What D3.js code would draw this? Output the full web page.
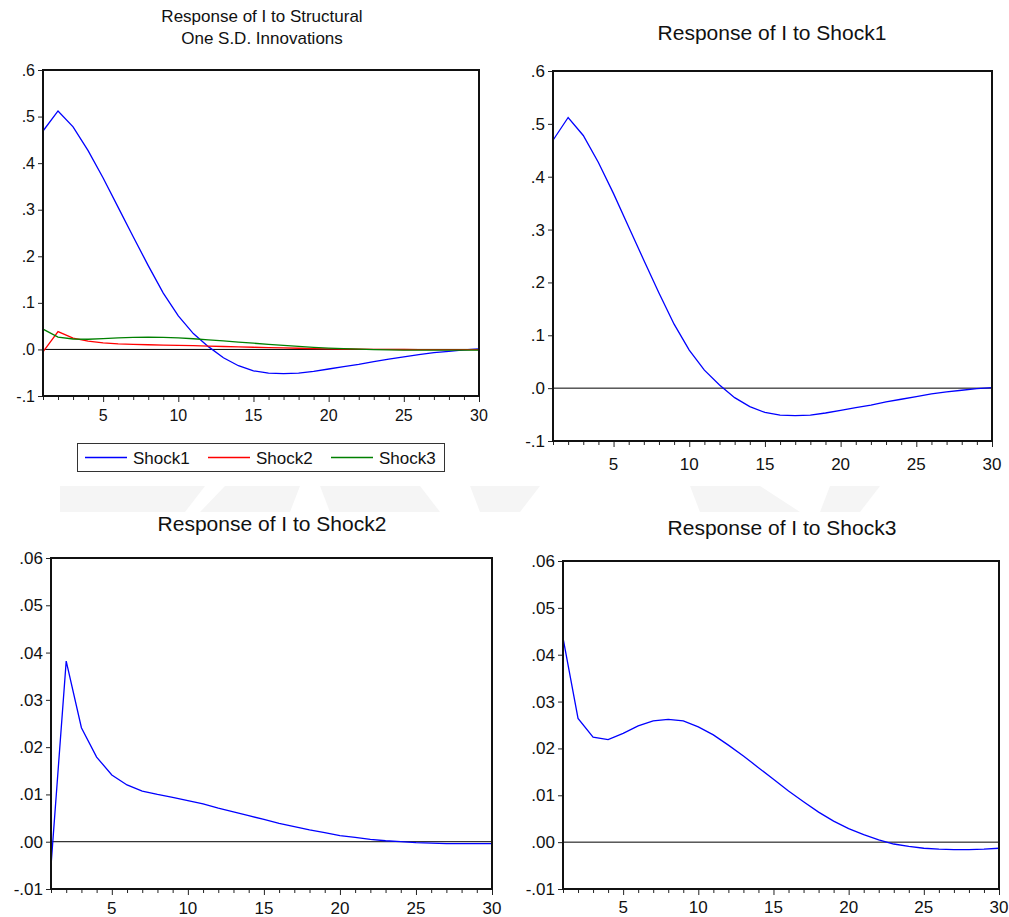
<!DOCTYPE html>
<html>
<head>
<meta charset="utf-8">
<script src="https://cdn.jsdelivr.net/npm/d3@7"></script>
<style>
  body { margin: 0; background: #fff; }
  svg { display: block; font-family: "Liberation Sans", Arial, sans-serif; }
</style>
</head>
<body>
<div id="chart"></div>
<script>
// periods 1..30
var periods = d3.range(1, 31)

var shock1 = [0.469, 0.512, 0.478, 0.427, 0.368, 0.305, 0.242, 0.180, 0.121, 0.072,
  0.034, 0.006, -0.018, -0.035, -0.046, -0.051, -0.052, -0.051, -0.047, -0.042,
  -0.037, -0.032, -0.026, -0.021, -0.016, -0.011, -0.007, -0.004, -0.001, 0.001]

var shock2 = [-0.0051, 0.0382, 0.0241, 0.0179, 0.0141, 0.0120, 0.0107, 0.0100, 0.0094, 0.0087,
  0.0080, 0.0071, 0.0063, 0.0055, 0.0047, 0.0039, 0.0032, 0.0025, 0.0019, 0.0013,
  0.0009, 0.0005, 0.0002, 0.0000, -0.0002, -0.0003, -0.0004, -0.0004, -0.0004, -0.0004]

var shock3 = [0.0436, 0.0264, 0.0224, 0.0219, 0.0232, 0.0248, 0.0259, 0.0262, 0.0259, 0.0246,
  0.0229, 0.0207, 0.0184, 0.0159, 0.0134, 0.0109, 0.0086, 0.0064, 0.0045, 0.0029,
  0.0016, 0.0005, -0.0004, -0.0009, -0.0013, -0.0015, -0.0016, -0.0016, -0.0015, -0.0013]

var seriesNames = ['Shock1', 'Shock2', 'Shock3']
var xTickLabels = [5, 10, 15, 20, 25, 30]
var bigTicks = [-0.1, 0, 0.1, 0.2, 0.3, 0.4, 0.5, 0.6]
var smallTicks = [-0.01, 0, 0.01, 0.02, 0.03, 0.04, 0.05, 0.06]

var colors = {Shock1: '#0000ff', Shock2: '#ff0000', Shock3: '#008000'}
var allSeries = {Shock1: shock1, Shock2: shock2, Shock3: shock3}

var W = 1009, H = 917

var svg = d3.select('#chart').append('svg')
    .attr('width', W)
    .attr('height', H)

// faint watermark band behind the lower titles
var wm = svg.append('g').attr('fill', '#f5f5f5')
wm.append('path').attr('d', 'M60,486 L205,486 L185,512 L60,512 Z')
wm.append('path').attr('d', 'M225,486 L300,486 L290,512 L200,512 Z')
wm.append('path').attr('d', 'M320,486 L420,486 L440,512 L330,512 Z')
wm.append('path').attr('d', 'M470,486 L540,486 L520,512 L480,512 Z')
wm.append('path').attr('d', 'M690,486 L760,486 L800,512 L700,512 Z')
wm.append('path').attr('d', 'M830,486 L880,486 L860,512 L820,512 Z')

var panels = [
  {x0: 43, y0: 70, x1: 479, y1: 396, ticks: bigTicks, dec: 1, series: ['Shock1', 'Shock2', 'Shock3'],
    title: ['Response of I to Structural', 'One S.D. Innovations'], tx: 262, ty: 22, tsize: 17, tlh: 22,
    font: 16, xlab: 421, legend: true},
  {x0: 553, y0: 71, x1: 992, y1: 441, ticks: bigTicks, dec: 1, series: ['Shock1'],
    title: ['Response of I to Shock1'], tx: 772, ty: 40, tsize: 21, font: 17, xlab: 470},
  {x0: 51, y0: 558, x1: 492, y1: 889, ticks: smallTicks, dec: 2, series: ['Shock2'],
    title: ['Response of I to Shock2'], tx: 272, ty: 531, tsize: 21, font: 17, xlab: 914},
  {x0: 563, y0: 561, x1: 999, y1: 889, ticks: smallTicks, dec: 2, series: ['Shock3'],
    title: ['Response of I to Shock3'], tx: 782, ty: 535, tsize: 21, font: 17, xlab: 913}
]

function fmt (dec) {
  var f = d3.format('.' + dec + 'f')
  return function (v) { return f(v).replace('\u2212', '-').replace('0.', '.') }
}

panels.forEach(function (p) {
  var g = svg.append('g')
  var x = d3.scaleLinear().domain([1, 30]).range([p.x0, p.x1])
  var y = d3.scaleLinear().domain([p.ticks[0], p.ticks[p.ticks.length - 1]]).range([p.y1, p.y0])

  // titles
  p.title.forEach(function (t, i) {
    g.append('text')
      .attr('x', p.tx)
      .attr('y', p.ty + i * (p.tlh || 0))
      .attr('text-anchor', 'middle')
      .style('font-size', p.tsize + 'px')
      .attr('fill', '#111')
      .text(t)
  })

  // y axis
  var yAxis = d3.axisLeft(y).tickValues(p.ticks).tickSize(5).tickPadding(3).tickFormat(fmt(p.dec))
  var ya = g.append('g').attr('transform', 'translate(' + p.x0 + ',0)').call(yAxis)
  ya.select('.domain').remove()
  ya.selectAll('text').style('font-size', p.font + 'px').attr('fill', '#111').attr('font-family', null)
  ya.selectAll('line').attr('stroke', '#222')

  // x axis: minor ticks every period
  var xAxis = d3.axisBottom(x).tickValues(periods).tickSize(4).tickFormat('')
  var xa = g.append('g').attr('transform', 'translate(0,' + p.y1 + ')').call(xAxis)
  xa.select('.domain').remove()
  xa.selectAll('line').attr('stroke', '#222')
    .attr('y2', function (d) { return d % 5 === 0 ? 6 : 4 })

  g.selectAll('.xlab').data(xTickLabels).enter().append('text')
    .attr('class', 'xlab')
    .attr('x', function (d) { return x(d) })
    .attr('y', p.xlab)
    .attr('text-anchor', 'middle')
    .style('font-size', p.font + 'px')
    .attr('fill', '#111')
    .text(function (d) { return d })

  // zero line
  g.append('line')
    .attr('x1', p.x0).attr('x2', p.x1)
    .attr('y1', y(0)).attr('y2', y(0))
    .attr('stroke', '#000').attr('stroke-width', 1)

  var line = d3.line()
    .x(function (d, i) { return x(periods[i]) })
    .y(function (d) { return y(d) })

  p.series.forEach(function (s) {
    g.append('path')
      .datum(allSeries[s])
      .attr('d', line)
      .attr('fill', 'none')
      .attr('stroke', p.series.length > 1 ? colors[s] : '#0000ff')
      .attr('stroke-width', 1.3)
  })

  // frame
  g.append('rect')
    .attr('x', p.x0).attr('y', p.y0)
    .attr('width', p.x1 - p.x0).attr('height', p.y1 - p.y0)
    .attr('fill', 'none').attr('stroke', '#111').attr('stroke-width', 2)

  if (p.legend) {
    var lg = g.append('g')
    lg.append('rect')
      .attr('x', 77.5).attr('y', 443.5).attr('width', 367).attr('height', 28)
      .attr('fill', '#fff').attr('stroke', '#333').attr('stroke-width', 1)
    var lx = d3.scalePoint().domain(seriesNames).range([85, 331])
    var items = lg.selectAll('.item').data(seriesNames).enter().append('g')
    items.append('line')
      .attr('x1', function (d) { return lx(d) })
      .attr('x2', function (d) { return lx(d) + 42 })
      .attr('y1', 457.5).attr('y2', 457.5)
      .attr('stroke', function (d) { return colors[d] })
      .attr('stroke-width', 1.3)
    items.append('text')
      .attr('x', function (d) { return lx(d) + 48 })
      .attr('y', 464)
      .style('font-size', '17px')
      .attr('fill', '#111')
      .text(function (d) { return d })
  }
})
</script>
</body>
</html>
